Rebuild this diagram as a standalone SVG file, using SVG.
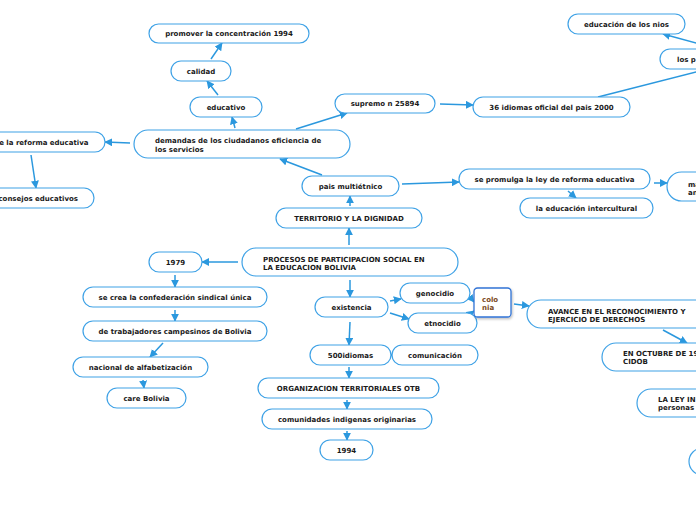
<svg xmlns="http://www.w3.org/2000/svg" width="696" height="520" viewBox="0 0 696 520">
<defs>
<style>
.n{fill:#fff;stroke:#3fa2e6;stroke-width:1.2}
.t{font-family:"DejaVu Sans",Verdana,sans-serif;font-weight:bold;font-size:7px;fill:#1a1a1a}
.c{text-anchor:middle}
.k{fill:none;stroke:#2b98de;stroke-width:1.5}
.col{fill:#fff;stroke:#3274d6;stroke-width:1.3}
.ct{font-family:"DejaVu Sans",Verdana,sans-serif;font-weight:bold;font-size:7px;fill:#7a4a1c}
</style>
<marker id="ah" viewBox="0 0 10 10" refX="9" refY="5" markerWidth="8" markerHeight="8" markerUnits="userSpaceOnUse" orient="auto">
<path d="M0,0 L10,5 L0,10 z" fill="#2b98de"/>
</marker>
<filter id="sh" x="-20%" y="-20%" width="150%" height="150%">
<feDropShadow dx="1" dy="1.5" stdDeviation="1" flood-color="#000" flood-opacity="0.25"/>
</filter>
</defs>
<rect width="696" height="520" fill="#fff"/>
<g id="connectors">
<line class="k" x1="211" y1="59" x2="222" y2="43" marker-end="url(#ah)"/>
<line class="k" x1="218" y1="95" x2="207" y2="81" marker-end="url(#ah)"/>
<line class="k" x1="235" y1="128" x2="232" y2="117" marker-end="url(#ah)"/>
<line class="k" x1="296" y1="129" x2="347" y2="113" marker-end="url(#ah)"/>
<line class="k" x1="440" y1="104" x2="473" y2="105" marker-end="url(#ah)"/>
<line class="k" x1="598" y1="97" x2="700" y2="71"/>
<line class="k" x1="700" y1="44" x2="663" y2="34" marker-end="url(#ah)"/>
<line class="k" x1="130" y1="143" x2="105" y2="142" marker-end="url(#ah)"/>
<line class="k" x1="31" y1="155" x2="36" y2="188" marker-end="url(#ah)"/>
<line class="k" x1="322" y1="175" x2="280" y2="159" marker-end="url(#ah)"/>
<line class="k" x1="350" y1="206" x2="350" y2="196" marker-end="url(#ah)"/>
<line class="k" x1="349" y1="245" x2="349" y2="228" marker-end="url(#ah)"/>
<line class="k" x1="402" y1="184" x2="459" y2="182" marker-end="url(#ah)"/>
<line class="k" x1="568" y1="191" x2="576" y2="198" marker-end="url(#ah)"/>
<line class="k" x1="654" y1="183" x2="667" y2="183" marker-end="url(#ah)"/>
<line class="k" x1="238" y1="262" x2="202" y2="262" marker-end="url(#ah)"/>
<line class="k" x1="175" y1="275" x2="175" y2="287" marker-end="url(#ah)"/>
<line class="k" x1="175" y1="310" x2="175" y2="321" marker-end="url(#ah)"/>
<line class="k" x1="163" y1="343" x2="150" y2="357" marker-end="url(#ah)"/>
<line class="k" x1="143" y1="380" x2="144" y2="388" marker-end="url(#ah)"/>
<line class="k" x1="350" y1="280" x2="350" y2="297" marker-end="url(#ah)"/>
<line class="k" x1="390" y1="301" x2="401" y2="299" marker-end="url(#ah)"/>
<line class="k" x1="390" y1="313" x2="409" y2="319" marker-end="url(#ah)"/>
<line class="k" x1="469" y1="296" x2="474" y2="302" marker-end="url(#ah)"/>
<line class="k" x1="467" y1="316" x2="474" y2="311" marker-end="url(#ah)"/>
<line class="k" x1="514" y1="304" x2="529" y2="306" marker-end="url(#ah)"/>
<line class="k" x1="663" y1="330" x2="687" y2="343" marker-end="url(#ah)"/>
<line class="k" x1="350" y1="322" x2="349" y2="345" marker-end="url(#ah)"/>
<line class="k" x1="386" y1="355" x2="393" y2="355" marker-end="url(#ah)"/>
<line class="k" x1="349" y1="367" x2="349" y2="378" marker-end="url(#ah)"/>
<line class="k" x1="347" y1="400" x2="347" y2="409" marker-end="url(#ah)"/>
<line class="k" x1="347" y1="431" x2="347" y2="440" marker-end="url(#ah)"/>
</g>
<g id="n-promover"><rect class="n" x="149" y="24" width="160" height="19" rx="9.5"/><text class="t c" x="229" y="36">promover la concentración 1994</text></g>
<g id="n-calidad"><rect class="n" x="171" y="61" width="60" height="20" rx="10"/><text class="t c" x="201" y="73.5">calidad</text></g>
<g id="n-educativo"><rect class="n" x="190" y="97" width="72" height="20" rx="10"/><text class="t c" x="226" y="109.5">educativo</text></g>
<g id="n-demandas"><rect class="n" x="134" y="130" width="216" height="28" rx="14"/><text class="t" x="155" y="143.2">demandas de los ciudadanos eficiencia de<tspan x="155" dy="8.4">los servicios</tspan></text></g>
<g id="n-reforma"><rect class="n" x="-60" y="132" width="165" height="20" rx="10"/><text class="t" x="88.5" y="144.5" text-anchor="end">e la reforma educativa</text></g>
<g id="n-consejos"><rect class="n" x="-60" y="188" width="154" height="20" rx="10"/><text class="t" x="78" y="200.5" text-anchor="end">consejos educativos</text></g>
<g id="n-supremo"><rect class="n" x="335" y="94" width="100" height="19" rx="9.5"/><text class="t c" x="385" y="106">supremo n 25894</text></g>
<g id="n-36idiomas"><rect class="n" x="473" y="97" width="157" height="20" rx="10"/><text class="t c" x="551.5" y="109.5">36 idiomas oficial del pais 2000</text></g>
<g id="n-nios"><rect class="n" x="568" y="14" width="117" height="20" rx="10"/><text class="t c" x="626.5" y="26.5">educación de los nios</text></g>
<g id="n-losp"><rect class="n" x="660" y="49" width="80" height="20" rx="10"/><text class="t" x="677" y="61.5">los p</text></g>
<g id="n-pais"><rect class="n" x="302" y="176" width="97" height="20" rx="10"/><text class="t c" x="350.5" y="188.5">pais multiétnico</text></g>
<g id="n-territorio"><rect class="n" x="276" y="208" width="146" height="20" rx="10"/><text class="t c" x="349" y="220.5">TERRITORIO Y LA DIGNIDAD</text></g>
<g id="n-procesos"><rect class="n" x="242" y="248" width="216" height="28" rx="14"/><text class="t" x="263" y="261.7">PROCESOS DE PARTICIPACION SOCIAL EN<tspan x="263" dy="8.3">LA EDUCACION BOLIVIA</tspan></text></g>
<g id="n-promulga"><rect class="n" x="459" y="169" width="191" height="20" rx="10"/><text class="t c" x="554.5" y="181.5">se promulga la ley de reforma educativa</text></g>
<g id="n-intercultural"><rect class="n" x="520" y="198" width="133" height="20" rx="10"/><text class="t c" x="586.5" y="210.5">la educación intercultural</text></g>
<g id="n-ma"><rect class="n" x="667" y="172" width="80" height="29" rx="14.5"/><text class="t" x="688" y="186.5">ma<tspan x="688" dy="8.7">an</tspan></text></g>
<g id="n-1979"><rect class="n" x="149" y="252" width="53" height="20" rx="10"/><text class="t c" x="175.5" y="264.5">1979</text></g>
<g id="n-secrea"><rect class="n" x="83" y="287" width="184" height="20" rx="10"/><text class="t c" x="175" y="299.5">se crea la confederación sindical única</text></g>
<g id="n-trabajadores"><rect class="n" x="83" y="321" width="184" height="20" rx="10"/><text class="t c" x="175" y="333.5">de trabajadores campesinos de Bolivia</text></g>
<g id="n-nacional"><rect class="n" x="73" y="357" width="135" height="20" rx="10"/><text class="t c" x="140.5" y="369.5">nacional de alfabetización</text></g>
<g id="n-care"><rect class="n" x="107" y="388" width="79" height="20" rx="10"/><text class="t c" x="146.5" y="400.5">care Bolivia</text></g>
<g id="n-existencia"><rect class="n" x="315" y="297" width="73" height="20" rx="10"/><text class="t c" x="351.5" y="309.5">existencia</text></g>
<g id="n-genocidio"><rect class="n" x="400" y="283" width="70" height="20" rx="10"/><text class="t c" x="435" y="295.5">genocidio</text></g>
<g id="n-etnocidio"><rect class="n" x="408" y="313" width="69" height="20" rx="10"/><text class="t c" x="442.5" y="325.5">etnocidio</text></g>
<g id="n-colonia"><rect class="col" x="474" y="288" width="37" height="29" rx="3.5" filter="url(#sh)"/><text class="ct" x="482" y="301.5">colo<tspan x="482" dy="8.8">nia</tspan></text></g>
<g id="n-avance"><rect class="n" x="527" y="300" width="220" height="28" rx="14"/><text class="t" x="548" y="313.5">AVANCE EN EL RECONOCIMIENTO Y<tspan x="548" dy="8.3">EJERCICIO DE DERECHOS</tspan></text></g>
<g id="n-500idiomas"><rect class="n" x="310" y="345" width="81" height="20" rx="10"/><text class="t c" x="350.5" y="357.5">500idiomas</text></g>
<g id="n-comunicacion"><rect class="n" x="392" y="345" width="86" height="20" rx="10"/><text class="t c" x="435" y="357.5">comunicación</text></g>
<g id="n-octubre"><rect class="n" x="602" y="343" width="160" height="28" rx="14"/><text class="t" x="623" y="356">EN OCTUBRE DE 19<tspan x="623" dy="8">CIDOB</tspan></text></g>
<g id="n-organizacion"><rect class="n" x="258" y="378" width="181" height="20" rx="10"/><text class="t c" x="348.5" y="390.5">ORGANIZACION TERRITORIALES OTB</text></g>
<g id="n-comunidades"><rect class="n" x="262" y="409" width="170" height="20" rx="10"/><text class="t c" x="347" y="421.5">comunidades indigenas originarias</text></g>
<g id="n-1994"><rect class="n" x="320" y="440" width="53" height="20" rx="10"/><text class="t c" x="346.5" y="452.5">1994</text></g>
<g id="n-ley"><rect class="n" x="637" y="389" width="120" height="28" rx="14"/><text class="t" x="658" y="402">LA LEY IN<tspan x="658" dy="8.3">personas</tspan></text></g>
<g id="n-circle"><rect class="n" x="689" y="448" width="60" height="27" rx="13.5"/></g>
</svg>
